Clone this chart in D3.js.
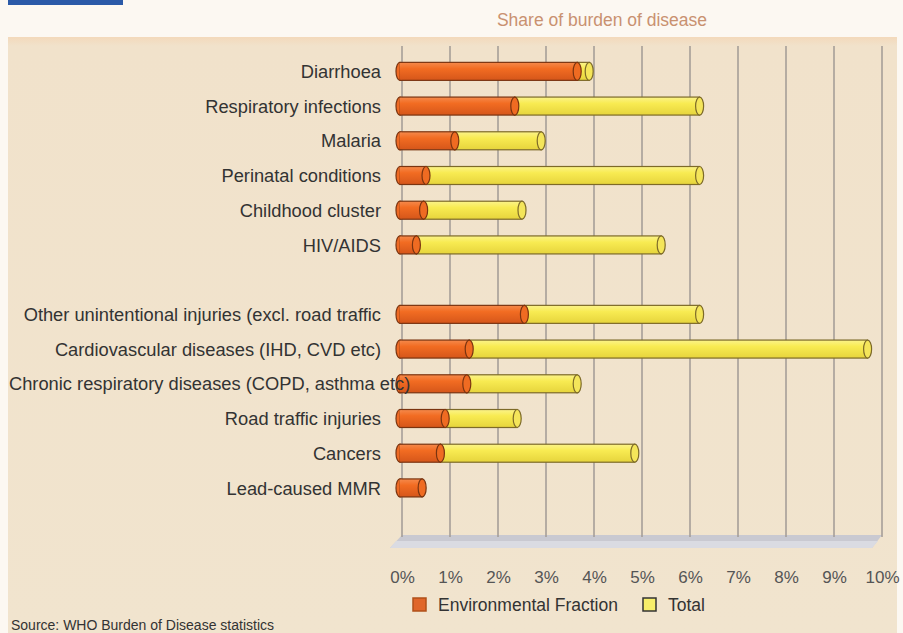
<!DOCTYPE html>
<html>
<head>
<meta charset="utf-8">
<script src="https://cdn.jsdelivr.net/npm/d3@7"></script>
<style>
  body { margin: 0; background: #fcf8f2; }
  text { font-family: "Liberation Sans", Arial, sans-serif; }
</style>
</head>
<body>
<div id="chart"></div>
<script>
// data (share of burden of disease, %)
var categories = ["Diarrhoea", "Respiratory infections", "Malaria", "Perinatal conditions",
    "Childhood cluster", "HIV/AIDS", "",
    "Other unintentional injuries (excl. road traffic", "Cardiovascular diseases (IHD, CVD etc)",
    "Chronic respiratory diseases (COPD, asthma etc)", "Road traffic injuries", "Cancers", "Lead-caused MMR"];
var envFraction = [3.65, 2.35, 1.1, 0.5, 0.45, 0.3, null, 2.55, 1.4, 1.35, 0.9, 0.8, 0.42];
var totals = [3.9, 6.2, 2.9, 6.2, 2.5, 5.4, null, 6.2, 9.7, 3.65, 2.4, 4.85, 0.42];
var xTicks = [0, 1, 2, 3, 4, 5, 6, 7, 8, 9, 10];
var legendItems = ["Environmental Fraction", "Total"];

var W = 903, H = 633;
var plot = {left: 402, right: 882, top: 54, bottom: 540};

var svg = d3.select("#chart")
    .append("svg")
    .attr("width", W)
    .attr("height", H);

var defs = svg.append("defs");

function vGrad(id, stops) {
    var g = defs.append("linearGradient")
        .attr("id", id)
        .attr("x1", 0).attr("y1", 0).attr("x2", 0).attr("y2", 1);
    stops.forEach(function (s) {
        g.append("stop").attr("offset", s[0]).attr("stop-color", s[1]);
    });
}
vGrad("orangeG", [[0, "#f58a4c"], [0.35, "#f26c22"], [1, "#d5561a"]]);
vGrad("yellowG", [[0, "#fbf38a"], [0.35, "#f8eb52"], [1, "#e6d43c"]]);
vGrad("panelG", [[0, "#f3d9bb"], [0.015, "#f1e2cb"], [1, "#f1e4ce"]]);

// little blue bar top left
svg.append("rect")
    .attr("x", 8).attr("y", 0)
    .attr("width", 115).attr("height", 5)
    .style("fill", "#2b5aa8");

// beige panel
svg.append("rect")
    .attr("x", 8).attr("y", 37)
    .attr("width", 889).attr("height", H - 37)
    .style("fill", "url(#panelG)");

// title
svg.append("text")
    .attr("x", 602).attr("y", 26)
    .style("text-anchor", "middle")
    .style("font-size", "17.5px")
    .style("fill", "#c99170")
    .text("Share of burden of disease");

// scales
var x = d3.scaleLinear()
    .domain([0, 10])
    .range([plot.left, plot.right]);

var y = d3.scaleBand()
    .domain(d3.range(categories.length + 1))
    .range([plot.top, plot.bottom]);

// floor (3d look)
svg.append("path")
    .attr("d", "M" + x(0) + "," + 535 + "L" + x(10) + "," + 535 +
        "L" + (x(10) - 10) + "," + 548 + "L" + (x(0) - 12) + "," + 548 + "Z")
    .style("fill", "#c9c9d1");
svg.append("path")
    .attr("d", "M" + (x(0) - 6) + "," + 541 + "L" + (x(10) - 4) + "," + 541 +
        "L" + (x(10) - 10) + "," + 548 + "L" + (x(0) - 12) + "," + 548 + "Z")
    .style("fill", "#dadbe2");

// grid lines
svg.append("g")
    .selectAll("line")
    .data(xTicks)
    .enter()
    .append("line")
    .attr("x1", d => x(d)).attr("x2", d => x(d))
    .attr("y1", 46).attr("y2", 537)
    .style("stroke", "#a09a94")
    .style("stroke-width", 1.5);

// x axis labels
var xAxis = svg.append("g")
    .attr("transform", "translate(0,568)")
    .call(d3.axisBottom(x).tickValues(xTicks).tickSize(0).tickFormat(d => d + "%"));
xAxis.select(".domain").remove();
xAxis.selectAll("text")
    .attr("dy", "0.71em")
    .style("font-size", "17px")
    .style("font-family", "Liberation Sans, Arial, sans-serif")
    .style("fill", "#555");

// bars as cylinders
var rows = categories.map(function (c, i) {
    return {name: c, i: i, env: envFraction[i], total: totals[i]};
}).filter(d => d.env != null);

var bh = 18, rx = 4;
var bars = svg.append("g").selectAll("g")
    .data(rows)
    .enter()
    .append("g")
    .attr("transform", d => "translate(0," + (y(d.i) + y.bandwidth() / 2) + ")");

// total (yellow) cylinder
var tot = bars.filter(d => d.total > d.env);
tot.append("rect")
    .attr("x", d => x(d.env)).attr("y", -bh / 2)
    .attr("width", d => x(d.total) - x(d.env)).attr("height", bh)
    .style("fill", "url(#yellowG)")
    .style("stroke", "#7d6a28").style("stroke-width", 1.2);
tot.append("ellipse")
    .attr("cx", d => x(d.total)).attr("cy", 0)
    .attr("rx", rx).attr("ry", bh / 2)
    .style("fill", "#f4e55a")
    .style("stroke", "#7d6a28").style("stroke-width", 1.2);

// environmental (orange) cylinder
bars.append("ellipse")
    .attr("cx", x(0) - 2).attr("cy", 0)
    .attr("rx", rx).attr("ry", bh / 2)
    .style("fill", "#ee6a24")
    .style("stroke", "#7a3410").style("stroke-width", 1.2);
bars.append("rect")
    .attr("x", x(0) - 2).attr("y", -bh / 2)
    .attr("width", d => x(d.env) - x(0) + 2).attr("height", bh)
    .style("fill", "url(#orangeG)")
    .style("stroke", "#7a3410").style("stroke-width", 1.2);
bars.append("rect")
    .attr("x", x(0) - 2.5).attr("y", -bh / 2 + 0.7)
    .attr("width", 2).attr("height", bh - 1.4)
    .style("fill", "url(#orangeG)");
bars.append("ellipse")
    .attr("cx", d => x(d.env)).attr("cy", 0)
    .attr("rx", rx).attr("ry", bh / 2)
    .style("fill", "#ef6b22")
    .style("stroke", "#7a3410").style("stroke-width", 1.2);

// category labels
svg.append("g")
    .selectAll("text")
    .data(rows)
    .enter()
    .append("text")
    .attr("x", 381)
    .attr("y", d => y(d.i) + y.bandwidth() / 2)
    .attr("dy", "0.36em")
    .style("text-anchor", "end")
    .style("font-size", "18.3px")
    .style("fill", "#333")
    .text(d => d.name)
    .each(function () {
        // long labels start at the panel edge
        var w = this.getComputedTextLength();
        if (381 - w < 9) {
            d3.select(this).style("text-anchor", "start").attr("x", 9);
        }
    });

// legend
var legendColors = ["#e0662a", "#f7ee6a"];
var legendX = [413, 643];
var legend = svg.append("g").selectAll("g")
    .data(legendItems)
    .enter()
    .append("g")
    .attr("transform", (d, i) => "translate(" + legendX[i] + ",598)");
legend.append("rect")
    .attr("width", 13).attr("height", 13)
    .style("fill", (d, i) => legendColors[i])
    .style("stroke", (d, i) => i == 0 ? "#b0501a" : "#333")
    .style("stroke-width", 1.5);
legend.append("text")
    .attr("x", 25).attr("y", 13)
    .style("font-size", "17.5px")
    .style("fill", "#333")
    .text(d => d);

// source note
svg.append("text")
    .attr("x", 11).attr("y", 630)
    .style("font-size", "14px")
    .style("fill", "#333")
    .text("Source: WHO Burden of Disease statistics");
</script>
</body>
</html>
